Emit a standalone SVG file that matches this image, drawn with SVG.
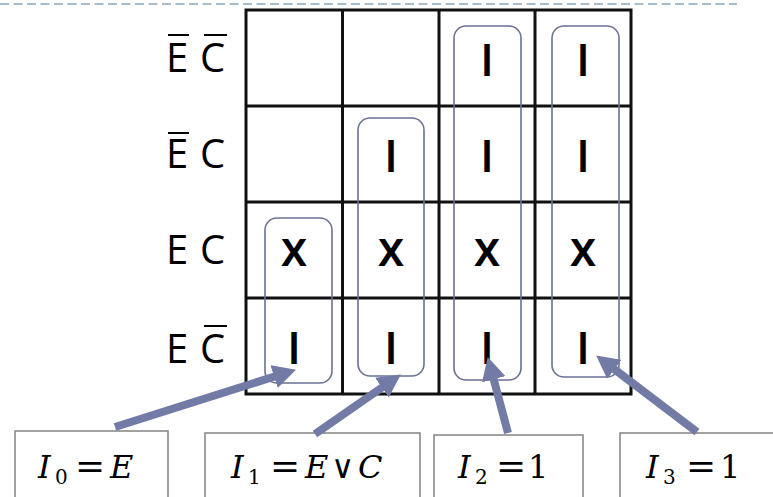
<svg xmlns="http://www.w3.org/2000/svg" width="773" height="497" viewBox="0 0 773 497">
  <style>
    .grid { fill: none; stroke: #111; stroke-width: 3; }
    .lbl { font-family: "Open Sans", "Liberation Sans", sans-serif; font-size: 40px; fill: #000; }
    .bar { stroke: #000; stroke-width: 2; }
    .cell { font-family: "Open Sans", "Liberation Sans", sans-serif; font-size: 46px; font-weight: 600; fill: #000; text-anchor: middle; }
    .cx { font-size: 48px; }
    .grp { fill: none; stroke: #6b7292; stroke-width: 1.6; }
    .arrow { stroke: #727ba5; stroke-width: 8; fill: none; marker-end: url(#head); }
    .box { fill: #fff; stroke: #8a8a8a; stroke-width: 1.6; }
    .math { font-family: "DejaVu Serif", "Liberation Serif", serif; font-size: 32px; fill: #000; }
    .it { font-style: italic; }
    .sub { font-size: 20px; }
    .op { font-size: 36px; }
  </style>
  <defs>
    <marker id="head" markerUnits="userSpaceOnUse" markerWidth="24" markerHeight="24" refX="8" refY="12" orient="auto">
      <path d="M0,0 L23,12 L0,24 z" fill="#727ba5"/>
    </marker>
  </defs>

  <rect width="773" height="497" fill="#fff"/>

  <!-- header rule -->
  <line x1="0" y1="4" x2="737" y2="4" stroke="#a6bccf" stroke-width="2" stroke-dasharray="9 4.5"/>

  <!-- Karnaugh grid -->
  <g id="grid">
    <rect class="grid" x="246" y="10" width="385" height="384"/>
    <line class="grid" x1="342.5" y1="10" x2="342.5" y2="394"/>
    <line class="grid" x1="439" y1="10" x2="439" y2="394"/>
    <line class="grid" x1="535" y1="10" x2="535" y2="394"/>
    <line class="grid" x1="246" y1="106" x2="631" y2="106"/>
    <line class="grid" x1="246" y1="202" x2="631" y2="202"/>
    <line class="grid" x1="246" y1="298" x2="631" y2="298"/>
  </g>

  <!-- row labels -->
  <g id="row-labels">
    <text class="lbl" x="166" y="72">E</text>
    <text class="lbl" x="200" y="72">C</text>
    <line class="bar" x1="168" y1="35" x2="189" y2="35"/>
    <line class="bar" x1="204" y1="35" x2="227" y2="35"/>

    <text class="lbl" x="166" y="168">E</text>
    <text class="lbl" x="200" y="168">C</text>
    <line class="bar" x1="168" y1="133" x2="189" y2="133"/>

    <text class="lbl" x="166" y="264">E</text>
    <text class="lbl" x="200" y="264">C</text>

    <text class="lbl" x="166" y="363">E</text>
    <text class="lbl" x="200" y="363">C</text>
    <line class="bar" x1="204" y1="326" x2="227" y2="326"/>
  </g>

  <!-- cell values -->
  <g id="cells">
    <text class="cell" x="487" y="76">I</text>
    <text class="cell" x="583" y="76">I</text>
    <text class="cell" x="391" y="172">I</text>
    <text class="cell" x="487" y="172">I</text>
    <text class="cell" x="583" y="172">I</text>
    <text class="cell cx" x="294" y="266">x</text>
    <text class="cell cx" x="391" y="266">x</text>
    <text class="cell cx" x="487" y="266">x</text>
    <text class="cell cx" x="583" y="266">x</text>
    <text class="cell" x="294" y="364">I</text>
    <text class="cell" x="391" y="364">I</text>
    <text class="cell" x="487" y="364">I</text>
    <text class="cell" x="583" y="364">I</text>
  </g>

  <!-- implicant loops -->
  <g id="loop-0"><rect class="grp" x="265" y="218" width="67" height="165" rx="12"/></g>
  <g id="loop-1"><rect class="grp" x="358" y="118" width="66" height="258" rx="12"/></g>
  <g id="loop-2"><rect class="grp" x="454" y="26" width="67" height="354" rx="12"/></g>
  <g id="loop-3"><rect class="grp" x="552" y="26" width="67" height="351" rx="12"/></g>

  <!-- expression boxes -->
  <g id="expr-0">
    <rect class="box" x="15" y="431" width="153" height="80"/>
    <text class="math" y="478"><tspan class="it" x="38">I</tspan><tspan class="sub" x="55" y="484">0</tspan><tspan class="op" x="75" y="478">=</tspan><tspan class="it" x="110">E</tspan></text>
  </g>
  <g id="expr-1">
    <rect class="box" x="205" y="433" width="215" height="80"/>
    <text class="math" y="478"><tspan class="it" x="231">I</tspan><tspan class="sub" x="248" y="484">1</tspan><tspan class="op" x="270" y="478">=</tspan><tspan class="it" x="305">E</tspan><tspan x="331">∨</tspan><tspan class="it" x="358">C</tspan></text>
  </g>
  <g id="expr-2">
    <rect class="box" x="434" y="435" width="149" height="80"/>
    <text class="math" y="478"><tspan class="it" x="458">I</tspan><tspan class="sub" x="475" y="484">2</tspan><tspan class="op" x="496" y="478">=</tspan><tspan x="528">1</tspan></text>
  </g>
  <g id="expr-3">
    <rect class="box" x="620" y="433" width="160" height="80"/>
    <text class="math" y="478"><tspan class="it" x="646">I</tspan><tspan class="sub" x="663" y="484">3</tspan><tspan class="op" x="686" y="478">=</tspan><tspan x="720">1</tspan></text>
  </g>

  <!-- connectors -->
  <g id="connectors">
    <line class="arrow" x1="115" y1="427" x2="281.7" y2="374.2"/>
    <line class="arrow" x1="315" y1="434" x2="388.5" y2="383"/>
    <line class="arrow" x1="508" y1="433" x2="491.6" y2="371.5"/>
    <line class="arrow" x1="697" y1="432" x2="608.1" y2="364.5"/>
  </g>
</svg>
